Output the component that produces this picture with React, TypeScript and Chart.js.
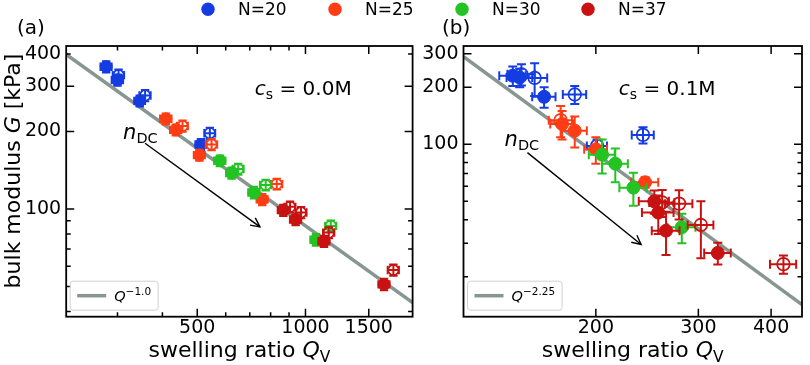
import React, { useEffect, useRef } from 'react';
import { Chart, registerables } from 'chart.js';

Chart.register(...registerables);

const FONT = '"DejaVu Sans", "Liberation Sans", sans-serif';

// ---- series ----
const seriesLabels = ['N=20', 'N=25', 'N=30', 'N=37'];
const seriesColors = ['#143ce1', '#ff3c14', '#22c322', '#c81212'];
const fitColor = '#879690';

// Each row: [Q_V, G (kPa), error in Q_V, error in G]
// Panel (a): c_s = 0.0 M
const a20Filled = [[279, 357, 10, 18], [300, 317, 11, 16], [346, 263, 12, 13], [512, 178, 18, 9]];
const a20Open = [[302, 331, 11, 17], [358, 276, 13, 14], [542, 197, 19, 10]];
const a25Filled = [[409, 224, 15, 11], [436, 203, 16, 10], [507, 162, 18, 8], [758, 109, 27, 5.5]];
const a25Open = [[455, 210, 16, 10.5], [548, 178, 20, 9], [832, 125, 30, 6]];
const a30Filled = [[578, 154, 21, 7.5], [623, 138, 22, 7], [719, 116, 26, 6], [1070, 76, 38, 4]];
const a30Open = [[650, 143, 23, 7], [775, 124, 28, 6], [1176, 86, 42, 4.3]];
const a37Filled = [[868, 99, 31, 5], [939, 91, 34, 4.5], [1126, 75, 40, 3.8], [1654, 51, 59, 2.6]];
const a37Open = [[906, 102, 32, 5], [972, 97, 35, 4.8], [1161, 81, 42, 4], [1756, 58, 63, 2.9]];

// Panel (b): c_s = 0.1 M
const b20Filled = [[144, 230, 7.5, 27], [148, 225, 7.5, 25], [163, 178, 7.5, 22]];
const b20Open = [[149, 234, 8, 30], [157, 224, 8, 44], [184, 183, 8.5, 20], [241, 112, 10.5, 11], [201, 98, 8, 8]];
const b25Filled = [[175, 128, 8, 22], [184, 118, 9, 22], [200, 94, 9, 15], [243, 63, 13, 4]];
const b25Open = [[174, 134, 8, 25]];
const b30Filled = [[205, 88, 10.5, 18], [216, 79, 11, 16], [232, 59, 12.5, 11.7], [281, 36.5, 15.5, 6.5]];
const b30Open: number[][] = [];
const b37Filled = [[252, 50, 15, 7], [256, 43.6, 16, 10], [264, 35, 14.5, 9], [324, 26.7, 17, 3.5]];
const b37Open = [[260, 49.3, 13, 8], [278, 48.6, 15, 8.5], [303, 37.5, 15.4, 12.5], [420, 23.3, 21.7, 2.6]];

// ---- power-law fits G ~ Q^exponent ----
const fitA = { prefactor: 86000, exponent: -1.0, sup: '\u22121.0' };
const fitB = { prefactor: 1.343e7, exponent: -2.25, sup: '\u22122.25' };

// ---- axes ----
const aQRange = [216, 1986];
const aGRange = [38.2, 429.5];
const aQTicks = [300, 400, 500, 600, 700, 800, 900, 1000, 1500];
const aQMajor = [500, 1000, 1500];
const aQLabels = [500, 1000, 1500];
const aGTicks = [40, 50, 60, 70, 80, 90, 100, 200, 300, 400];
const aGMajor = [100, 200, 300];
const aGLabels = [100, 200, 300, 400];

const bQRange = [118.5, 452];
const bGRange = [12.3, 330];
const bQTicks = [200, 300, 400];
const bQMajor = [200, 300, 400];
const bQLabels = [200, 300, 400];
const bGTicks = [20, 30, 40, 50, 60, 70, 80, 90, 100, 200, 300];
const bGMajor = [100, 200, 300];
const bGLabels = [100, 200, 300];

type Run = { t: string; size: number; italic?: boolean; dy?: number };

const fontOf = (r: Run) => `${r.italic ? 'italic ' : ''}${r.size}px ${FONT}`;

function runsWidth(ctx: CanvasRenderingContext2D, runs: Run[]) {
  let w = 0;
  for (const r of runs) {
    ctx.font = fontOf(r);
    w += ctx.measureText(r.t).width;
  }
  return w;
}

function drawRuns(ctx: CanvasRenderingContext2D, runs: Run[], x: number, y: number, center = false) {
  let cx = center ? x - runsWidth(ctx, runs) / 2 : x;
  ctx.textAlign = 'left';
  ctx.textBaseline = 'alphabetic';
  for (const r of runs) {
    ctx.font = fontOf(r);
    ctx.fillText(r.t, cx, y + (r.dy || 0));
    cx += ctx.measureText(r.t).width;
  }
  return cx;
}

function drawArrow(ctx: CanvasRenderingContext2D, x0: number, y0: number, x1: number, y1: number) {
  ctx.beginPath();
  ctx.moveTo(x0, y0);
  ctx.lineTo(x1, y1);
  ctx.stroke();
  const a = Math.atan2(y1 - y0, x1 - x0);
  const L = 9;
  const W = 4.5;
  const c = Math.cos(a);
  const s = Math.sin(a);
  ctx.beginPath();
  ctx.moveTo(x1 - L * c + W * s, y1 - L * s - W * c);
  ctx.lineTo(x1, y1);
  ctx.lineTo(x1 - L * c - W * s, y1 - L * s + W * c);
  ctx.stroke();
}

interface PanelDef {
  tag: string;
  tagPos: [number, number];
  salt: string;
  saltAt: number[];
  nAt: number[];
  arrowFrom: number[];
  arrowTo: number[];
  padLeft: number;
  padRight: number;
  yWidth: number;
  qRange: number[];
  gRange: number[];
  qTicks: number[];
  qMajor: number[];
  qLabels: number[];
  gTicks: number[];
  gMajor: number[];
  gLabels: number[];
  fit: { prefactor: number; exponent: number; sup: string };
  groups: number[][][][]; // per N: [filled, open]
  markerR: number;
  openR: number;
  capHalf: number;
  yTitle: boolean;
  topLegend: boolean;
}

const panelA: PanelDef = {
  tag: '(a)',
  tagPos: [17, 33.5],
  salt: '0.0M',
  saltAt: [723, 277],
  nAt: [311, 187],
  arrowFrom: [358, 180],
  arrowTo: [747, 85.3],
  padLeft: 0,
  padRight: 810 - 412.6,
  yWidth: 66.2,
  qRange: aQRange,
  gRange: aGRange,
  qTicks: aQTicks,
  qMajor: aQMajor,
  qLabels: aQLabels,
  gTicks: aGTicks,
  gMajor: aGMajor,
  gLabels: aGLabels,
  fit: fitA,
  groups: [
    [a20Filled, a20Open],
    [a25Filled, a25Open],
    [a30Filled, a30Open],
    [a37Filled, a37Open],
  ],
  markerR: 6,
  openR: 5.2,
  capHalf: 4.2,
  yTitle: true,
  topLegend: true,
};

const panelB: PanelDef = {
  tag: '(b)',
  tagPos: [442, 33.5],
  salt: '0.1M',
  saltAt: [219, 181],
  nAt: [139.4, 97.9],
  arrowFrom: [152.6, 90.3],
  arrowTo: [239.2, 29.6],
  padLeft: 420,
  padRight: 1.5,
  yWidth: 43.5,
  qRange: bQRange,
  gRange: bGRange,
  qTicks: bQTicks,
  qMajor: bQMajor,
  qLabels: bQLabels,
  gTicks: bGTicks,
  gMajor: bGMajor,
  gLabels: bGLabels,
  fit: fitB,
  groups: [
    [b20Filled, b20Open],
    [b25Filled, b25Open],
    [b30Filled, b30Open],
    [b37Filled, b37Open],
  ],
  markerR: 6.5,
  openR: 6.3,
  capHalf: 4.5,
  yTitle: false,
  topLegend: false,
};

const PLOT_TOP = 46;
const PLOT_BOTTOM = 316.7;

function decorPlugin(def: PanelDef) {
  return {
    id: 'panelDecor',
    beforeDatasetDraw(chart: any, args: any) {
      const ds = chart.data.datasets[args.index];
      if (!ds.errorBars) return;
      const { ctx, chartArea } = chart;
      const xs = chart.scales.x;
      const ys = chart.scales.y;
      ctx.save();
      ctx.beginPath();
      ctx.rect(chartArea.left, chartArea.top, chartArea.right - chartArea.left, chartArea.bottom - chartArea.top);
      ctx.clip();
      ctx.strokeStyle = ds.pointBorderColor;
      ctx.lineWidth = 2;
      ctx.lineCap = 'butt';
      const c = def.capHalf;
      for (const [q, g, dq, dg] of ds.errorBars as number[][]) {
        const xc = xs.getPixelForValue(q);
        const yc = ys.getPixelForValue(g);
        const x0 = xs.getPixelForValue(q - dq);
        const x1 = xs.getPixelForValue(q + dq);
        const y0 = ys.getPixelForValue(g - dg);
        const y1 = ys.getPixelForValue(g + dg);
        ctx.beginPath();
        ctx.moveTo(x0, yc);
        ctx.lineTo(x1, yc);
        ctx.moveTo(xc, y0);
        ctx.lineTo(xc, y1);
        ctx.moveTo(x0, yc - c);
        ctx.lineTo(x0, yc + c);
        ctx.moveTo(x1, yc - c);
        ctx.lineTo(x1, yc + c);
        ctx.moveTo(xc - c, y0);
        ctx.lineTo(xc + c, y0);
        ctx.moveTo(xc - c, y1);
        ctx.lineTo(xc + c, y1);
        ctx.stroke();
      }
      ctx.restore();
    },
    afterDraw(chart: any) {
      const { ctx, chartArea } = chart;
      const xs = chart.scales.x;
      const ys = chart.scales.y;
      const { left, right, top, bottom } = chartArea;
      ctx.save();
      ctx.fillStyle = '#000';
      ctx.strokeStyle = '#000';

      // inward ticks on all four sides
      ctx.lineWidth = 1.5;
      ctx.beginPath();
      for (const v of def.qTicks) {
        const x = xs.getPixelForValue(v);
        const len = def.qMajor.includes(v) ? 8 : 4.5;
        ctx.moveTo(x, bottom);
        ctx.lineTo(x, bottom - len);
        ctx.moveTo(x, top);
        ctx.lineTo(x, top + len);
      }
      for (const v of def.gTicks) {
        const y = ys.getPixelForValue(v);
        const len = def.gMajor.includes(v) ? 8 : 4.5;
        ctx.moveTo(left, y);
        ctx.lineTo(left + len, y);
        ctx.moveTo(right, y);
        ctx.lineTo(right - len, y);
      }
      ctx.stroke();

      // frame
      ctx.lineWidth = 1.8;
      ctx.strokeRect(left, top, right - left, bottom - top);

      // salt concentration
      const sx = xs.getPixelForValue(def.saltAt[0]);
      const sy = ys.getPixelForValue(def.saltAt[1]);
      drawRuns(ctx, [
        { t: 'c', size: 20, italic: true },
        { t: 's', size: 14, dy: 4 },
        { t: ' = ' + def.salt, size: 20 },
      ], sx, sy);

      // n_DC arrow
      const nx = xs.getPixelForValue(def.nAt[0]);
      const ny = ys.getPixelForValue(def.nAt[1]);
      drawRuns(ctx, [
        { t: 'n', size: 21, italic: true },
        { t: 'DC', size: 14.5, dy: 4 },
      ], nx, ny);
      ctx.lineWidth = 1.4;
      drawArrow(
        ctx,
        xs.getPixelForValue(def.arrowFrom[0]),
        ys.getPixelForValue(def.arrowFrom[1]),
        xs.getPixelForValue(def.arrowTo[0]),
        ys.getPixelForValue(def.arrowTo[1]),
      );

      // fit legend box
      const legRuns: Run[] = [
        { t: 'Q', size: 14.5, italic: true },
        { t: def.fit.sup, size: 10.5, dy: -6 },
      ];
      const bx = left + 4;
      const bh = 29;
      const bb = bottom - 6.5;
      const bt = bb - bh;
      const textX = bx + 44;
      const bw = textX + runsWidth(ctx, legRuns) + 7 - bx;
      ctx.beginPath();
      ctx.roundRect(bx, bt, bw, bh, 3);
      ctx.fillStyle = 'rgba(255,255,255,0.8)';
      ctx.fill();
      ctx.strokeStyle = '#d0d0d0';
      ctx.lineWidth = 1;
      ctx.stroke();
      const my = bt + bh / 2;
      ctx.strokeStyle = fitColor;
      ctx.lineWidth = 3.5;
      ctx.beginPath();
      ctx.moveTo(bx + 7, my);
      ctx.lineTo(bx + 36, my);
      ctx.stroke();
      ctx.fillStyle = '#000';
      drawRuns(ctx, legRuns, textX, my + 5.5);

      // axis titles
      const cxTitle = (left + right) / 2;
      drawRuns(ctx, [
        { t: 'swelling ratio ', size: 22 },
        { t: 'Q', size: 22, italic: true },
        { t: 'V', size: 15.5, dy: 4.5 },
      ], cxTitle, 357, true);
      if (def.yTitle) {
        ctx.save();
        ctx.translate(20, 171);
        ctx.rotate(-Math.PI / 2);
        drawRuns(ctx, [
          { t: 'bulk modulus ', size: 22 },
          { t: 'G', size: 22, italic: true },
          { t: ' [kPa]', size: 22 },
        ], 0, 0, true);
        ctx.restore();
      }

      // panel tag
      drawRuns(ctx, [{ t: def.tag, size: 20 }], def.tagPos[0], def.tagPos[1]);

      // series legend along the top
      if (def.topLegend) {
        const cxs = [208, 335, 462, 588];
        seriesLabels.forEach((lab, i) => {
          ctx.fillStyle = seriesColors[i];
          ctx.beginPath();
          ctx.arc(cxs[i], 9.3, 6.7, 0, Math.PI * 2);
          ctx.fill();
          ctx.fillStyle = '#000';
          drawRuns(ctx, [{ t: lab, size: 17 }], cxs[i] + 30, 15.2);
        });
      }
      ctx.restore();
    },
  };
}

function buildConfig(def: PanelDef): any {
  const [qMin, qMax] = def.qRange;
  const fitLine = [qMin, qMax].map((q) => ({ x: q, y: def.fit.prefactor * Math.pow(q, def.fit.exponent) }));
  const datasets: any[] = [
    {
      type: 'line',
      label: 'fit',
      data: fitLine,
      borderColor: fitColor,
      borderWidth: 3.5,
      pointRadius: 0,
      fill: false,
      tension: 0,
      order: 100,
    },
  ];
  let k = 0;
  def.groups.forEach((pair, i) => {
    pair.forEach((pts, j) => {
      const open = j === 1;
      datasets.push({
        type: 'scatter',
        label: seriesLabels[i] + (open ? ' open' : ''),
        data: pts.map((p) => ({ x: p[0], y: p[1] })),
        errorBars: pts,
        pointStyle: 'circle',
        pointRadius: open ? def.openR : def.markerR,
        pointBackgroundColor: open ? 'rgba(255,255,255,0)' : seriesColors[i],
        pointBorderColor: seriesColors[i],
        pointBorderWidth: open ? 1.7 : 1,
        showLine: false,
        order: 50 - k,
      });
      k += 1;
    });
  });

  const tickFont = { family: FONT, size: 19, lineHeight: 1 };
  return {
    type: 'scatter',
    data: { datasets },
    options: {
      responsive: false,
      animation: false,
      devicePixelRatio: 1,
      events: [],
      layout: { padding: { left: def.padLeft, right: def.padRight, top: PLOT_TOP, bottom: 0 } },
      plugins: { legend: { display: false }, tooltip: { enabled: false }, title: { display: false } },
      scales: {
        x: {
          type: 'logarithmic',
          position: 'bottom',
          min: qMin,
          max: qMax,
          afterBuildTicks: (s: any) => {
            s.ticks = def.qTicks.map((v) => ({ value: v }));
          },
          afterFit: (s: any) => {
            s.height = 365 - PLOT_BOTTOM;
          },
          grid: { display: false, drawTicks: false },
          border: { display: false },
          ticks: {
            autoSkip: false,
            maxRotation: 0,
            minRotation: 0,
            padding: 2,
            color: '#000',
            font: tickFont,
            callback: (v: number) => (def.qLabels.includes(v) ? String(v) : ''),
          },
        },
        y: {
          type: 'logarithmic',
          position: 'left',
          min: def.gRange[0],
          max: def.gRange[1],
          afterBuildTicks: (s: any) => {
            s.ticks = def.gTicks.map((v) => ({ value: v }));
          },
          afterFit: (s: any) => {
            s.width = def.yWidth;
          },
          grid: { display: false, drawTicks: false },
          border: { display: false },
          ticks: {
            autoSkip: false,
            padding: 5,
            color: '#000',
            font: tickFont,
            callback: (v: number) => (def.gLabels.includes(v) ? String(v) : ''),
          },
        },
      },
    },
    plugins: [decorPlugin(def)],
  };
}

function Panel({ def }: { def: PanelDef }) {
  const ref = useRef<HTMLCanvasElement>(null);
  useEffect(() => {
    if (!ref.current) return;
    const chart = new Chart(ref.current, buildConfig(def));
    return () => chart.destroy();
  }, [def]);
  return (
    <canvas
      ref={ref}
      width={810}
      height={365}
      style={{ position: 'absolute', left: 0, top: 0, width: 810, height: 365 }}
    />
  );
}

export default function App() {
  return (
    <div style={{ position: 'absolute', left: 0, top: 0, width: 810, height: 365, background: '#fff', overflow: 'hidden' }}>
      <Panel def={panelA} />
      <Panel def={panelB} />
    </div>
  );
}
